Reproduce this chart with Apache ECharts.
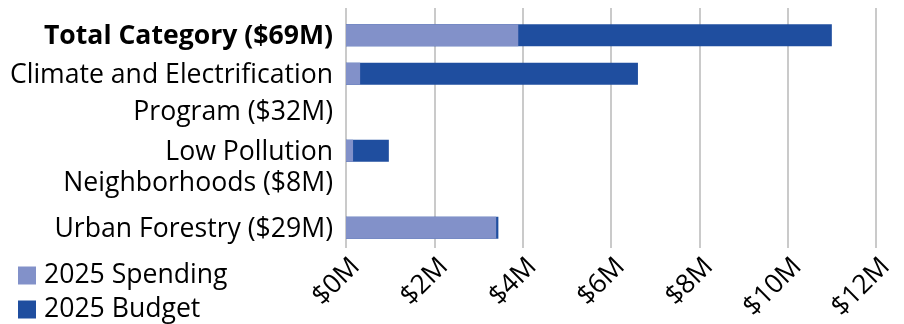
<!DOCTYPE html>
<html><head><meta charset="utf-8">
<script src="https://cdn.jsdelivr.net/npm/echarts@6/dist/echarts.min.js"></script>
<style>html,body{margin:0;padding:0;background:#fff}#c{width:904px;height:324px}</style>
</head><body><div id="c"></div>
<script>
const rowLabels = ['Total Category ($69M)', 'Climate and Electrification', 'Program ($32M)', 'Low Pollution', 'Neighborhoods ($8M)', 'Urban Forestry ($29M)'];
const spending = [3.90, 0.32, null, 0.16, null, 3.40];
const budget = [11.00, 6.61, null, 0.97, null, 3.45];
const xTicks = [0, 2, 4, 6, 8, 10, 12];
const seriesNames = ['2025 Spending', '2025 Budget'];

const FONT = 'Open Sans';
const FS = 26.6;
const chart = echarts.init(document.getElementById('c'), null, {renderer: 'canvas'});
const legendCommon = {
  orient: 'vertical', left: 13, itemWidth: 18, itemHeight: 18, icon: 'rect',
  textStyle: {fontFamily: FONT, fontSize: FS, color: '#000', padding: [0, 0, 0, 3]}
};
chart.setOption({
  animation: false,
  textStyle: {fontFamily: FONT},
  legend: [
    Object.assign({data: [seriesNames[0]], top: 257}, legendCommon),
    Object.assign({data: [seriesNames[1]], top: 291}, legendCommon)
  ],
  grid: [
    {left: 346, right: 28, top: 8, bottom: 76},
    {left: 346, right: 28, top: 16, bottom: 77}
  ],
  xAxis: [
    {gridIndex: 0, type: 'value', min: xTicks[0], max: xTicks[xTicks.length - 1], interval: 2,
     axisLine: {show: false}, axisTick: {show: false},
     splitLine: {show: true, lineStyle: {color: '#B8B8B8', width: 1.5}},
     axisLabel: {rotate: 45, margin: 5, verticalAlign: 'top', fontFamily: FONT, fontSize: FS, color: '#000',
       formatter: v => '$' + v + 'M'}},
    {gridIndex: 1, type: 'value', min: xTicks[0], max: xTicks[xTicks.length - 1], interval: 2,
     show: false}
  ],
  yAxis: [
    {gridIndex: 0, type: 'category', data: rowLabels, show: false},
    {gridIndex: 1, type: 'category', data: rowLabels, inverse: true,
     axisLine: {show: false}, axisTick: {show: false}, splitLine: {show: false},
     axisLabel: {margin: 13, fontFamily: FONT, fontSize: FS, color: '#000', interval: 0,
       formatter: (v, i) => i === 0 ? '{b|' + v + '}' : (i === 4 ? '{u|' + v + '}' : (i === 2 ? '{p|' + v + '}' : '{n|' + v + '}')),
       rich: {
         b: {fontFamily: FONT, fontSize: FS, fontWeight: 'bold', color: '#000', padding: [3, 0, 0, 0]},
         n: {fontFamily: FONT, fontSize: FS, color: '#000', padding: [3, 0, 0, 0]},
         p: {fontFamily: FONT, fontSize: FS, color: '#000'},
         u: {fontFamily: FONT, fontSize: FS, color: '#000', padding: [0, 0, 11, 0]}
       }}}
  ],
  series: [
    {name: seriesNames[1], type: 'bar', xAxisIndex: 1, yAxisIndex: 1, data: budget,
     barWidth: 22, barGap: '-100%', itemStyle: {color: '#1F4E9F'}},
    {name: seriesNames[0], type: 'bar', xAxisIndex: 1, yAxisIndex: 1, data: spending,
     barWidth: 22, barGap: '-100%', itemStyle: {color: '#8291C9'}}
  ]
});
</script></body></html>
